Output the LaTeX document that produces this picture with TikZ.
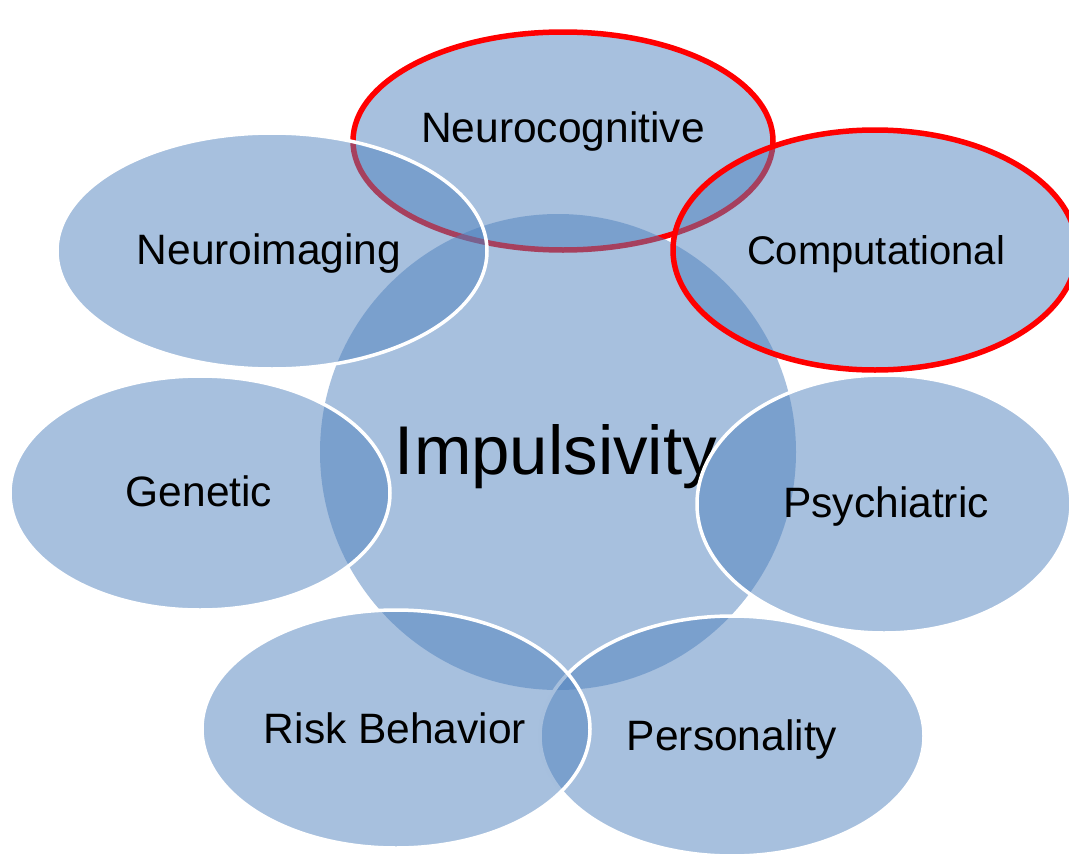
\documentclass[tikz,border=0pt]{standalone}
\usepackage{fontspec}
\setmainfont{Liberation Sans}
\usetikzlibrary{shapes.geometric}
\definecolor{blobblue}{HTML}{4F81BD}
\definecolor{redline}{HTML}{FF0000}
\tikzset{
  blob/.style={ellipse, inner sep=0pt, outer sep=0pt, fill=blobblue, fill opacity=0.5, draw opacity=1},
  plainblob/.style={blob, draw=none},
  whiteedge/.style={blob, draw=white, line width=3.5pt},
  rededge/.style={blob, draw=redline, line width=5.5pt},
  lbl/.style={anchor=base, inner sep=0pt, text=black, font=\fontsize{42.5}{50}\selectfont},
  smalllbl/.style={lbl, font=\fontsize{40}{48}\selectfont},
  biglbl/.style={lbl, font=\fontsize{69}{82}\selectfont},
}
\begin{document}
\begin{tikzpicture}[x=1pt,y=-1pt]
\useasboundingbox (0,0) rectangle (1069,854);
% Neurocognitive (drawn first)
\node[rededge, minimum width=420pt, minimum height=218pt] (ncog) at (563,141) {};
\node[lbl] (ncogt) at (563,142) {Neurocognitive};
% central circle
\node[plainblob, circle, minimum size=476pt] (imp) at (558,452) {};
\node[biglbl] (impt) at (556,474) {Impulsivity};
% Neuroimaging
\node[whiteedge, minimum width=430pt, minimum height=236pt] (nimg) at (272,251) {};
\node[lbl] (nimgt) at (269,264) {Neuroimaging};
% Computational
\node[rededge, minimum width=404pt, minimum height=240pt] (comp) at (875,250) {};
\node[smalllbl] (compt) at (876,264) {Computational};
% Genetic
\node[whiteedge, minimum width=380pt, minimum height=234pt] (gen) at (200,493) {};
\node[lbl] (gent) at (199,506) {Genetic};
% Psychiatric
\node[whiteedge, minimum width=374pt, minimum height=258pt] (psy) at (884,504) {};
\node[lbl] (psyt) at (886,517) {Psychiatric};
% Personality
\node[whiteedge, minimum width=384pt, minimum height=240pt] (pers) at (732,736) {};
\node[lbl] (perst) at (732,750) {Personality};
% Risk Behavior
\node[whiteedge, minimum width=388pt, minimum height=238pt] (risk) at (396,729) {};
\node[lbl] (riskt) at (395,743) {Risk Behavior};
\end{tikzpicture}
\end{document}
